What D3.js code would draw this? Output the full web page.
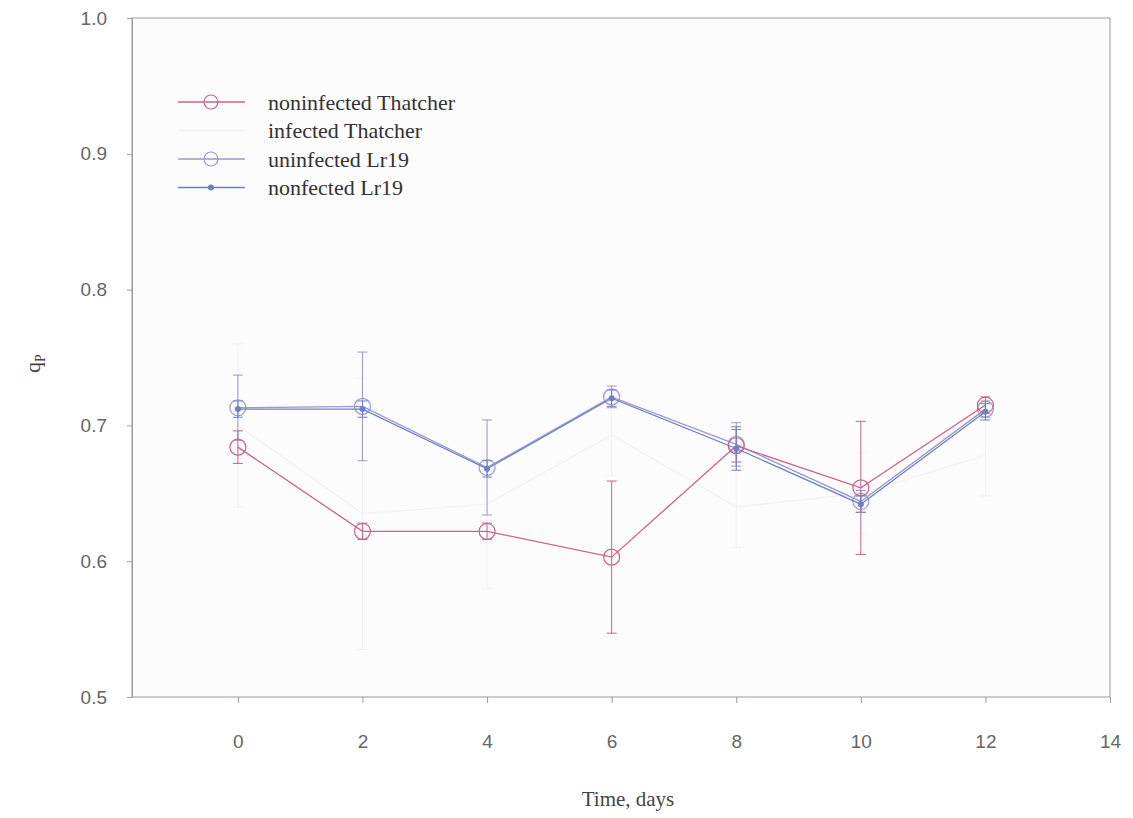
<!DOCTYPE html>
<html>
<head>
<meta charset="utf-8">
<script src="https://cdn.jsdelivr.net/npm/d3@7"></script>
<style>
  body { margin: 0; background: #fff; }
  svg { display: block; }
</style>
</head>
<body>
<div id="stage"></div>
<script>
const days = [0, 2, 4, 6, 8, 10, 12];
const xTicks = [0, 2, 4, 6, 8, 10, 12, 14];
const yTicks = [0.5, 0.6, 0.7, 0.8, 0.9, 1.0];

const seriesNames = ['noninfected Thatcher', 'infected Thatcher', 'uninfected Lr19', 'nonfected Lr19'];

const nonThatcher = [0.684, 0.622, 0.622, 0.603, 0.685, 0.654, 0.715];
const nonThatcherErr = [0.012, 0.006, 0.006, 0.056, 0.012, 0.049, 0.006];

const infThatcher = [0.700, 0.635, 0.642, 0.693, 0.640, 0.650, 0.678];
const infThatcherErr = [0.060, 0.100, 0.062, 0.030, 0.030, 0.030, 0.030];

const uninfLr19 = [0.713, 0.714, 0.669, 0.721, 0.686, 0.644, 0.712];
const uninfLr19Err = [0.024, 0.040, 0.035, 0.008, 0.016, 0.008, 0.006];

const nonLr19 = [0.712, 0.712, 0.668, 0.720, 0.683, 0.642, 0.710];
const nonLr19Err = [0.006, 0.006, 0.006, 0.006, 0.016, 0.006, 0.006];

const width = 1133;
const height = 818;
const margin = {top: 18, right: 23, bottom: 121, left: 132};

const series = [
    {name: seriesNames[0], values: nonThatcher, err: nonThatcherErr, color: '#c9648a', marker: 'circle', op: 1},
    {name: seriesNames[1], values: infThatcher, err: infThatcherErr, color: '#ece4e7', marker: 'none', op: 0.45},
    {name: seriesNames[2], values: uninfLr19, err: uninfLr19Err, color: '#8b88c6', marker: 'circle', op: 0.85},
    {name: seriesNames[3], values: nonLr19, err: nonLr19Err, color: '#6f7fc4', marker: 'dot', op: 1}
];

const svg = d3.select('#stage')
    .append('svg')
    .attr('width', width)
    .attr('height', height);

const x = d3.scaleLinear()
    .domain([-1.7, 14])
    .range([margin.left, width - margin.right]);

const y = d3.scaleLinear()
    .domain([0.5, 1.0])
    .range([height - margin.bottom, margin.top]);

// frame
svg.append('rect')
    .attr('x', margin.left)
    .attr('y', margin.top)
    .attr('width', width - margin.left - margin.right)
    .attr('height', height - margin.top - margin.bottom)
    .attr('fill', '#fcfcfc')
    .attr('stroke', '#9a9aa6')
    .attr('stroke-width', 1);

// y axis
const yAxis = svg.append('g')
    .attr('transform', `translate(${margin.left},0)`)
    .call(d3.axisLeft(y).tickValues(yTicks).tickFormat(d3.format('.1f')).tickSize(5).tickPadding(20));
yAxis.select('.domain').attr('stroke', '#9a9aa6');
yAxis.selectAll('.tick line').attr('stroke', '#9a9aa6');
yAxis.selectAll('.tick text')
    .attr('fill', '#666')
    .attr('font-family', '"Liberation Sans", Arial, sans-serif')
    .attr('font-size', 19);

// x axis
const xAxis = svg.append('g')
    .attr('transform', `translate(0,${height - margin.bottom})`)
    .call(d3.axisBottom(x).tickValues(xTicks).tickSize(6).tickPadding(32));
xAxis.select('.domain').remove();
xAxis.selectAll('.tick line').attr('stroke', '#9a9aa6');
xAxis.selectAll('.tick text')
    .attr('fill', '#666')
    .attr('font-family', '"Liberation Sans", Arial, sans-serif')
    .attr('font-size', 19);

// axis titles
svg.append('text')
    .attr('transform', `translate(40,${(margin.top + height - margin.bottom) / 2 + 6}) rotate(-90)`)
    .attr('text-anchor', 'middle')
    .attr('font-family', '"Liberation Serif", serif')
    .attr('font-size', 22)
    .attr('fill', '#444')
    .text('q')
    .append('tspan')
    .attr('font-size', 14)
    .attr('dy', 5)
    .text('P');

svg.append('text')
    .attr('x', 628)
    .attr('y', 806)
    .attr('text-anchor', 'middle')
    .attr('font-family', '"Liberation Serif", serif')
    .attr('font-size', 21)
    .attr('fill', '#444')
    .text('Time, days');

const line = d3.line()
    .x(d => x(d.day))
    .y(d => y(d.v));

// draw faint series first
const order = [1, 2, 0, 3];
order.forEach(i => {
    const s = series[i];
    const pts = days.map((d, k) => ({day: d, v: s.values[k], e: s.err[k]}));
    const g = svg.append('g').attr('opacity', s.op);

    // error bars
    const eb = g.selectAll('.eb')
        .data(pts)
        .join('g');
    eb.append('line')
        .attr('x1', d => x(d.day)).attr('x2', d => x(d.day))
        .attr('y1', d => y(d.v - d.e)).attr('y2', d => y(d.v + d.e))
        .attr('stroke', s.color).attr('stroke-width', 1);
    [1, -1].forEach(sign => {
        eb.append('line')
            .attr('x1', d => x(d.day) - 5).attr('x2', d => x(d.day) + 5)
            .attr('y1', d => y(d.v + sign * d.e)).attr('y2', d => y(d.v + sign * d.e))
            .attr('stroke', s.color).attr('stroke-width', 1);
    });

    g.append('path')
        .datum(pts)
        .attr('fill', 'none')
        .attr('stroke', s.color)
        .attr('stroke-width', 1.3)
        .attr('d', line);

    if (s.marker === 'circle') {
        g.selectAll('.m')
            .data(pts)
            .join('circle')
            .attr('cx', d => x(d.day)).attr('cy', d => y(d.v))
            .attr('r', 8)
            .attr('fill', 'none')
            .attr('stroke', s.color)
            .attr('stroke-width', 1.2);
    } else if (s.marker === 'dot') {
        g.selectAll('.m')
            .data(pts)
            .join('circle')
            .attr('cx', d => x(d.day)).attr('cy', d => y(d.v))
            .attr('r', 3)
            .attr('fill', s.color);
    }
});

// legend
const legend = svg.append('g').attr('transform', 'translate(178,102)');
series.forEach((s, i) => {
    const row = legend.append('g')
        .attr('transform', `translate(0,${i * 28.5})`);
    const sym = row.append('g').attr('opacity', s.op);
    sym.append('line')
        .attr('x1', 0).attr('x2', 67)
        .attr('stroke', s.color).attr('stroke-width', 1.3);
    if (s.marker === 'circle') {
        sym.append('circle').attr('cx', 33).attr('r', 7)
            .attr('fill', 'none').attr('stroke', s.color).attr('stroke-width', 1.2);
    } else if (s.marker === 'dot') {
        sym.append('circle').attr('cx', 33).attr('r', 3).attr('fill', s.color);
    }
    row.append('text')
        .attr('x', 90)
        .attr('dy', '0.35em')
        .attr('font-family', '"Liberation Serif", serif')
        .attr('font-size', 22)
        .attr('fill', '#333')
        .text(s.name);
});
</script>
</body>
</html>
